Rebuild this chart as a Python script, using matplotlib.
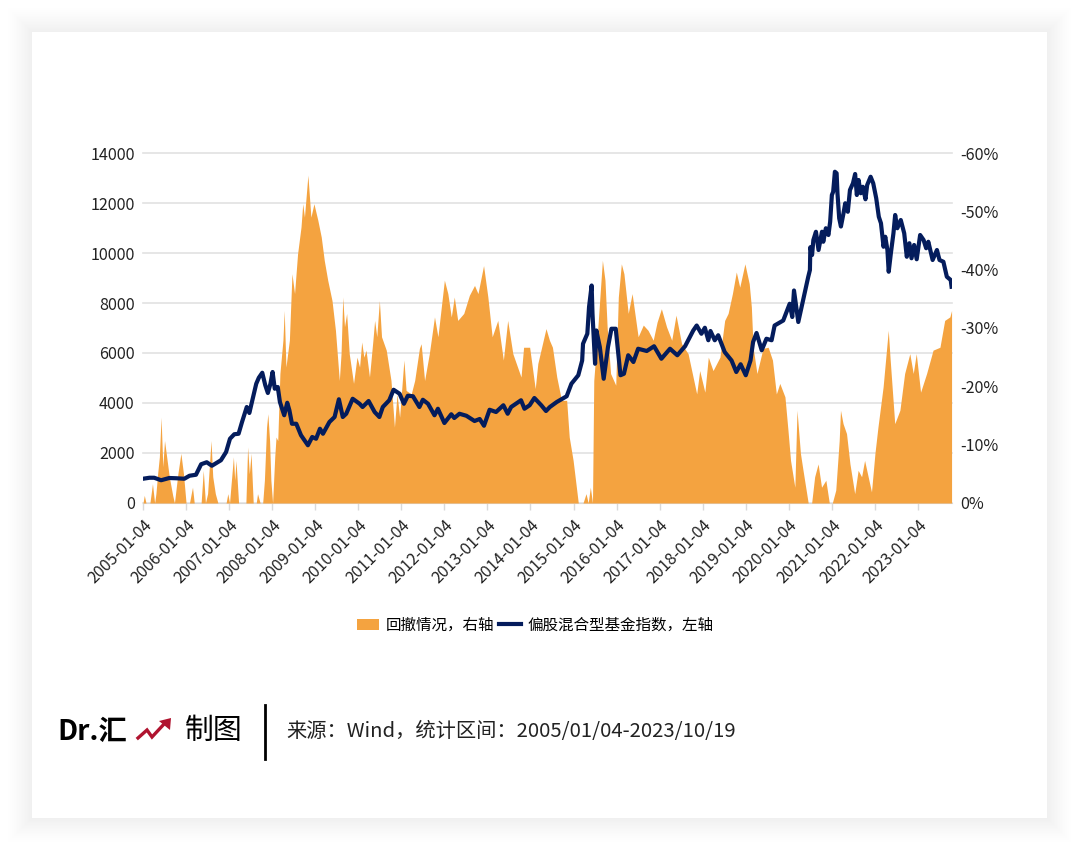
import matplotlib
matplotlib.use("Agg")
import matplotlib.pyplot as plt
from matplotlib.patches import Rectangle, Polygon

plt.rcParams["font.family"] = ["Noto Sans CJK SC", "DejaVu Sans"]

# x values are years since 2005-01-04
tick_labels = [f"{y}-01-04" for y in range(2005, 2024)]
left_ticks = [0, 2000, 4000, 6000, 8000, 10000, 12000, 14000]
right_ticks = [0, 10, 20, 30, 40, 50, 60]
right_labels = ["0%", "-10%", "-20%", "-30%", "-40%", "-50%", "-60%"]

index_t = [
    0.00, 0.15, 0.26, 0.42, 0.61, 0.77, 0.96, 1.08, 1.23, 1.35, 1.48, 1.60, 1.81, 1.93, 2.02, 2.12, 2.22, 2.30,
    2.41, 2.47, 2.53, 2.63, 2.69, 2.77, 2.84, 2.90, 2.96, 3.01, 3.06, 3.13, 3.18, 3.28, 3.35, 3.40, 3.46, 3.56,
    3.67, 3.83, 3.93, 4.02, 4.11, 4.18, 4.33, 4.45, 4.55, 4.64, 4.72, 4.87, 5.03, 5.10, 5.24, 5.38, 5.49, 5.57,
    5.72, 5.82, 5.96, 6.06, 6.15, 6.27, 6.42, 6.50, 6.62, 6.77, 6.85, 7.00, 7.16, 7.23, 7.35, 7.51, 7.70, 7.82,
    7.92, 8.05, 8.20, 8.37, 8.47, 8.55, 8.78, 8.86, 8.98, 9.09, 9.25, 9.36, 9.45, 9.61, 9.84, 9.95, 10.11, 10.20,
    10.22, 10.32, 10.36, 10.42, 10.44, 10.50, 10.53, 10.61, 10.70, 10.80, 10.88, 10.98, 11.04, 11.09, 11.17,
    11.27, 11.39, 11.50, 11.70, 11.87, 12.04, 12.24, 12.41, 12.59, 12.78, 12.86, 12.97, 13.05, 13.13, 13.18,
    13.28, 13.36, 13.51, 13.67, 13.78, 13.88, 14.00, 14.11, 14.17, 14.25, 14.37, 14.48, 14.60, 14.67, 14.87,
    15.02, 15.08, 15.12, 15.22, 15.33, 15.45, 15.49, 15.50, 15.54, 15.57, 15.63, 15.69, 15.77, 15.80, 15.86,
    15.92, 15.96, 16.00, 16.03, 16.07, 16.11, 16.13, 16.17, 16.21, 16.27, 16.31, 16.37, 16.42, 16.49, 16.54,
    16.58, 16.62, 16.67, 16.72, 16.78, 16.82, 16.90, 16.96, 17.03, 17.09, 17.14, 17.20, 17.24, 17.29, 17.32,
    17.37, 17.43, 17.47, 17.52, 17.60, 17.68, 17.74, 17.80, 17.85, 17.91, 17.97, 18.05, 18.13, 18.19, 18.24,
    18.34, 18.44, 18.50, 18.59, 18.67, 18.76, 18.78,
]
index_val = [
    970, 1010, 1010, 910, 1000, 990, 970, 1090, 1130, 1550, 1630, 1490, 1710, 2040, 2570, 2750, 2770, 3240,
    3840, 3600, 4040, 4770, 5010, 5210, 4710, 4400, 4770, 5240, 4570, 4640, 4040, 3510, 4010, 3710, 3170, 3170,
    2710, 2310, 2640, 2570, 2970, 2770, 3240, 3440, 4150, 3440, 3570, 4170, 3970, 3840, 4080, 3640, 3440, 3840,
    4110, 4530, 4370, 3970, 4290, 4270, 3840, 4130, 3970, 3510, 3770, 3200, 3550, 3400, 3570, 3490, 3280, 3360,
    3090, 3730, 3640, 3910, 3570, 3840, 4110, 3770, 3910, 4200, 3910, 3680, 3840, 4040, 4270, 4770, 5110, 5700,
    6370, 6770, 7840, 8700, 7570, 5570, 6900, 6240, 4970, 6240, 6970, 6970, 5970, 5110, 5170,
    5910, 5640, 6170, 6080, 6270, 5770, 6170, 5910, 6270, 6900, 7100, 6770, 7010, 6510, 6880,
    6510, 6710, 6040, 5700, 5240, 5550, 5110, 5700, 6440, 6800, 6110, 6570, 6510, 7100, 7300,
    7970, 7440, 8500, 7240, 8100, 9040, 9320, 10230, 9920, 10520, 10850, 10120, 10850, 10450, 10990,
    10720, 11250, 12320, 12450, 13250, 13190, 12390, 11390, 11060, 11590, 11990, 11650, 12520, 12790, 13160,
    12320, 12920, 12390, 12650, 12150, 12720, 13050, 12790, 12190, 11450, 11190, 10250, 10650, 10120, 9250,
    9990, 10790, 11520, 10990, 11320, 10790, 9850, 10390, 9790, 10320, 9750, 10720, 10520, 10190, 10450,
    9720, 10120, 9720, 9650, 9050, 8920, 8650,
]

drawdown_t = [
    0.00, 0.03, 0.07, 0.16, 0.22, 0.27, 0.30, 0.34, 0.38, 0.42, 0.46, 0.50, 0.55, 0.61, 0.69, 0.73, 0.81, 0.88,
    0.94, 1.00, 1.08, 1.12, 1.15, 1.19, 1.35, 1.40, 1.45, 1.50, 1.58, 1.62, 1.68, 1.74, 1.93, 1.97, 2.01, 2.04,
    2.10, 2.13, 2.16, 2.22, 2.39, 2.43, 2.47, 2.51, 2.56, 2.63, 2.66, 2.72, 2.78, 2.82, 2.87, 2.90, 2.94, 2.97,
    3.01, 3.06, 3.09, 3.13, 3.18, 3.25, 3.28, 3.32, 3.40, 3.46, 3.52, 3.59, 3.67, 3.71, 3.75, 3.83, 3.90, 3.97,
    4.06, 4.14, 4.21, 4.29, 4.39, 4.47, 4.56, 4.60, 4.64, 4.68, 4.73, 4.79, 4.89, 4.97, 5.03, 5.08, 5.13, 5.18,
    5.26, 5.34, 5.38, 5.43, 5.49, 5.54, 5.65, 5.76, 5.84, 5.90, 5.96, 6.06, 6.11, 6.23, 6.31, 6.42, 6.46, 6.54,
    6.65, 6.77, 6.85, 7.00, 7.08, 7.16, 7.23, 7.31, 7.45, 7.58, 7.70, 7.78, 7.91, 8.01, 8.11, 8.24, 8.37, 8.47,
    8.59, 8.78, 8.84, 8.98, 9.11, 9.17, 9.36, 9.44, 9.51, 9.61, 9.72, 9.84, 9.90, 9.99, 10.11, 10.22, 10.29,
    10.34, 10.39, 10.44, 10.47, 10.57, 10.67, 10.73, 10.78, 10.86, 10.98, 11.04, 11.11, 11.17, 11.27, 11.36,
    11.50, 11.62, 11.73, 11.85, 11.94, 12.04, 12.16, 12.28, 12.38, 12.51, 12.66, 12.86, 12.93, 13.05, 13.13,
    13.24, 13.40, 13.51, 13.59, 13.69, 13.78, 13.86, 13.98, 14.08, 14.13, 14.17, 14.26, 14.40, 14.52, 14.62,
    14.71, 14.79, 14.91, 14.98, 15.04, 15.14, 15.19, 15.27, 15.33, 15.45, 15.53, 15.60, 15.68, 15.76, 15.86,
    15.94, 16.01, 16.09, 16.17, 16.20, 16.26, 16.34, 16.42, 16.53, 16.61, 16.69, 16.76, 16.92, 17.00, 17.07,
    17.19, 17.31, 17.35, 17.46, 17.58, 17.69, 17.81, 17.89, 17.96, 18.06, 18.20, 18.35, 18.51, 18.62, 18.74, 18.78,
]
drawdown_pct = [
    0, 1.3, 0, 0, 3.3, 0, 1.6, 5.0, 7.9, 14.7, 6.2, 10.7, 7.9, 4.5, 1.3, 0, 5.0, 8.5,
    5.0, 0, 0, 1.6, 2.7, 0, 0, 5.6, 0, 1.6, 10.7, 4.5, 1.6, 0, 0, 1.6, 0, 2.7,
    7.9, 3.9, 7.3, 0, 0, 9.6, 5.0, 8.5, 0, 0, 1.6, 0, 0, 3.9, 13.0, 15.3, 10.7, 3.9,
    0, 7.9, 11.3, 10.7, 22.2, 27.9, 33.0, 23.3, 27.9, 39.3, 35.9, 42.7, 47.3, 51.3, 49.0, 56.2, 49.0, 51.3,
    48.5, 45.6, 41.6, 38.2, 34.7, 29.6, 21.0, 25.6, 35.3, 30.2, 32.5, 25.6, 20.5, 25.0, 23.3, 27.6, 25.0, 26.2,
    21.6, 27.9, 31.3, 28.5, 34.7, 28.5, 26.2, 21.0, 13.0, 18.7, 14.7, 24.5, 19.3, 18.7, 21.0, 26.5, 27.3, 21.0,
    25.6, 31.9, 28.5, 38.2, 35.9, 31.9, 35.3, 31.3, 32.5, 35.6, 37.3, 35.9, 40.7, 35.3, 28.5, 31.3, 24.5, 31.3,
    25.6, 21.6, 26.7, 26.7, 19.6, 23.9, 29.9, 27.9, 26.7, 21.6, 17.6, 17.6, 11.3, 7.3, 0, 0, 1.6,
    0, 2.7, 0, 21.0, 30.7, 41.6, 38.2, 30.2, 22.2, 20.2, 35.3, 41.0, 39.3, 32.5, 35.9,
    28.5, 30.5, 29.6, 27.9, 31.0, 33.3, 30.2, 27.9, 32.2, 27.3, 25.6, 18.7, 22.7, 19.0, 25.0,
    22.7, 25.0, 31.3, 32.5, 35.9, 39.6, 37.0, 41.0, 37.6, 33.6, 26.7, 22.2, 26.5, 26.7, 24.5,
    18.7, 20.5, 18.2, 12.5, 7.3, 2.7, 15.9, 8.5, 5.6, 0, 0, 4.5, 6.7, 2.7, 3.9,
    0, 0, 2.2, 10.7, 15.9, 13.6, 11.9, 6.7, 1.6, 5.6, 4.5, 7.3, 1.9, 8.5, 13.0,
    19.9, 29.6, 25.0, 13.6, 15.9, 22.2, 25.6, 22.2, 25.6, 19.0, 22.2, 26.2, 26.7, 31.3, 31.9, 33.0,
]

W, H = 1080, 851
ORANGE = "#f4a340"
NAVY = "#041c5c"
RED = "#b0132f"

fig = plt.figure(figsize=(W / 100, H / 100), dpi=100, facecolor="white")

# page background, card and footer, drawn in pixel coordinates
bg = fig.add_axes([0, 0, 1, 1], zorder=-1)
bg.set_xlim(0, W)
bg.set_ylim(H, 0)
bg.axis("off")
# soft shadow round the card, fading out over about 25 px
for grow in range(25, 0, -1):
    shade = 0.935 + 0.065 * (grow / 25) ** 0.8
    bg.add_patch(Rectangle((32 - grow, 32 - grow), 1015 + 2 * grow, 786 + 2 * grow, fc=str(shade), ec="none"))
bg.add_patch(Rectangle((32, 32), 1015, 786, fc="white", ec="none"))

bg.text(57, 732, "Dr.汇", fontsize=20.3, fontweight="bold", color="black", va="center", ha="left")
bg.plot([138, 147, 152, 165], [738, 730, 737, 723], color=RED, lw=2.4, solid_joinstyle="miter")
bg.add_patch(Polygon([[159, 721], [171, 718], [170, 730]], fc=RED, ec="none"))
bg.text(185, 731, "制图", fontsize=20.8, color="black", va="center", ha="left")
bg.plot([265, 265], [705, 759], color="black", lw=2)
bg.text(286, 731.5, "来源：Wind，统计区间：2005/01/04-2023/10/19", fontsize=14.6, color="#222222", va="center", ha="left")

pos = [143 / W, 1 - 503 / H, (952 - 143) / W, (503 - 153) / H]

# left axis with grid at the bottom, area above it, line on top
ax = fig.add_axes(pos, zorder=1, facecolor="none")
ax.set_xlim(0, 18.79)
ax.set_ylim(0, 14000)
ax.set_yticks(left_ticks)
ax.set_xticks(range(len(tick_labels)))
ax.set_xticklabels(tick_labels, rotation=45, ha="right", rotation_mode="anchor", fontsize=11.6, color="#222222")
ax.tick_params(axis="y", length=0, pad=6, labelsize=11.6, labelcolor="#222222")
ax.tick_params(axis="x", length=5, width=1, color="#d9d9d9", pad=5)
ax.grid(axis="y", color="#e2e2e2", lw=1.2)
for gridline in ax.get_ygridlines():
    gridline.set_clip_on(False)
ax.set_axisbelow(True)
for side in ["top", "left", "right"]:
    ax.spines[side].set_visible(False)
ax.spines["bottom"].set_color("#d9d9d9")

ax_right = ax.twinx()
ax_right.set_zorder(2)
ax_right.set_ylim(0, 60)
ax_right.set_yticks(right_ticks)
ax_right.set_yticklabels(right_labels)
ax_right.tick_params(axis="y", length=0, pad=6, labelsize=11.6, labelcolor="#222222")
area = ax_right.fill_between(drawdown_t, drawdown_pct, 0, color=ORANGE, lw=0, label="回撤情况，右轴")

ax_line = ax.twinx()
ax_line.set_zorder(3)
ax_line.set_ylim(0, 14000)
ax_line.set_yticks([])
line, = ax_line.plot(index_t, index_val, color=NAVY, lw=3, label="偏股混合型基金指数，左轴")
for a in [ax_right, ax_line]:
    a.patch.set_visible(False)
    for spine in a.spines.values():
        spine.set_visible(False)

fig.legend(
    handles=[area, line],
    loc="center",
    bbox_to_anchor=(535 / W, 1 - 625 / H),
    ncol=2,
    frameon=False,
    fontsize=11.2,
    handlelength=1.45,
    handletextpad=0.4,
    columnspacing=0.3,
)

fig.savefig("out.png", dpi=100, facecolor=fig.get_facecolor())
